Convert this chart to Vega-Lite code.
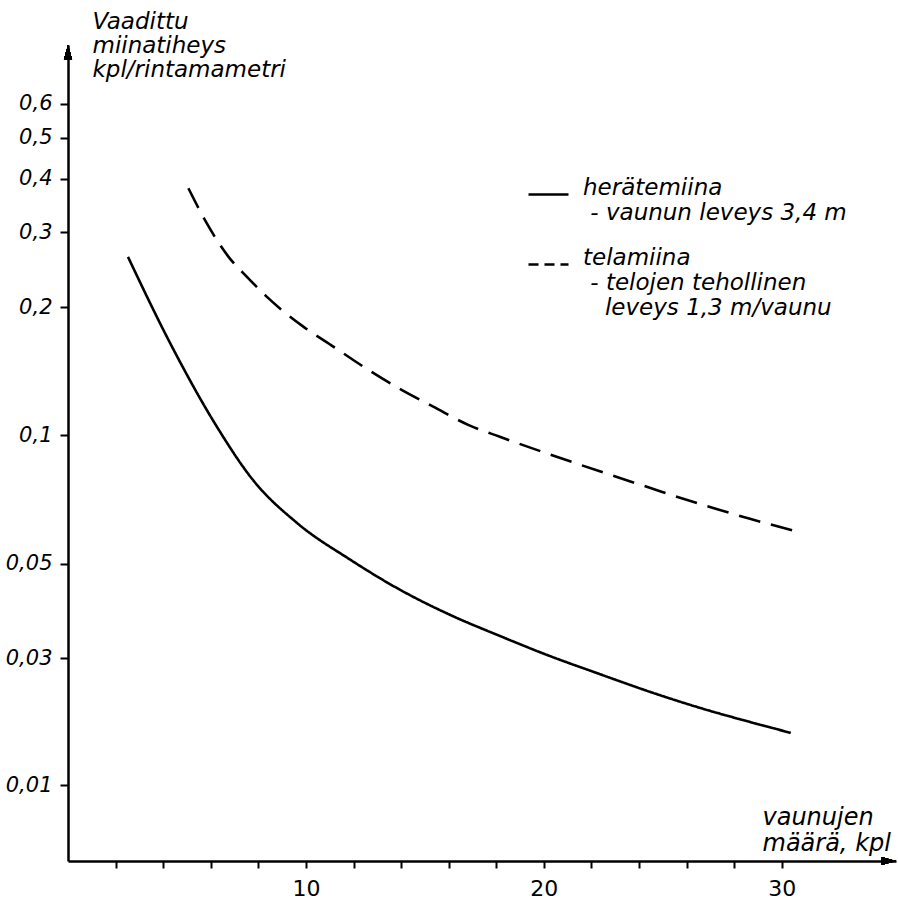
{
  "$schema": "https://vega.github.io/schema/vega-lite/v6.json",
  "width": 828,
  "height": 816,
  "autosize": "none",
  "padding": {"left": 68, "top": 45, "right": 2, "bottom": 39},
  "background": "white",
  "config": {"view": {"stroke": null}, "font": "DejaVu Sans"},
  "data": {
    "values": [
      {"serie": "herätemiina", "n": 2.52, "d": 0.2625},
      {"serie": "herätemiina", "n": 4.37, "d": 0.1615},
      {"serie": "herätemiina", "n": 6.26, "d": 0.1047},
      {"serie": "herätemiina", "n": 7.77, "d": 0.0786},
      {"serie": "herätemiina", "n": 9.62, "d": 0.0623},
      {"serie": "herätemiina", "n": 11.85, "d": 0.0511},
      {"serie": "herätemiina", "n": 13.95, "d": 0.0434},
      {"serie": "herätemiina", "n": 16.05, "d": 0.0379},
      {"serie": "herätemiina", "n": 18.15, "d": 0.0338},
      {"serie": "herätemiina", "n": 20.0, "d": 0.0307},
      {"serie": "herätemiina", "n": 22.35, "d": 0.0261},
      {"serie": "herätemiina", "n": 24.45, "d": 0.0224},
      {"serie": "herätemiina", "n": 26.55, "d": 0.0195},
      {"serie": "herätemiina", "n": 28.66, "d": 0.01725},
      {"serie": "herätemiina", "n": 30.38, "d": 0.0157},
      {"serie": "telamiina", "n": 5.06, "d": 0.3804},
      {"serie": "telamiina", "n": 5.83, "d": 0.3149},
      {"serie": "telamiina", "n": 6.39, "d": 0.28},
      {"serie": "telamiina", "n": 6.74, "d": 0.2628},
      {"serie": "telamiina", "n": 7.51, "d": 0.2359},
      {"serie": "telamiina", "n": 8.35, "d": 0.2117},
      {"serie": "telamiina", "n": 8.98, "d": 0.197},
      {"serie": "telamiina", "n": 9.89, "d": 0.18},
      {"serie": "telamiina", "n": 11.15, "d": 0.1616},
      {"serie": "telamiina", "n": 12.41, "d": 0.145},
      {"serie": "telamiina", "n": 14.02, "d": 0.1279},
      {"serie": "telamiina", "n": 15.35, "d": 0.1168},
      {"serie": "telamiina", "n": 16.82, "d": 0.1058},
      {"serie": "telamiina", "n": 18.15, "d": 0.0992},
      {"serie": "telamiina", "n": 20.25, "d": 0.0902},
      {"serie": "telamiina", "n": 22.35, "d": 0.0823},
      {"serie": "telamiina", "n": 24.45, "d": 0.0753},
      {"serie": "telamiina", "n": 26.55, "d": 0.069},
      {"serie": "telamiina", "n": 28.66, "d": 0.0637},
      {"serie": "telamiina", "n": 30.8, "d": 0.0591}
    ]
  },
  "layer": [
    {
      "mark": {"type": "line", "strokeWidth": 2.6, "color": "black", "interpolate": "monotone"},
      "encoding": {
        "x": {
          "field": "n", "type": "quantitative",
          "scale": {"domain": [0, 34.8], "nice": false, "zero": false},
          "axis": {
            "values": [2, 4, 6, 8, 10, 12, 14, 16, 18, 20, 22, 24, 26, 28, 30],
            "labelExpr": "datum.value % 10 === 0 ? datum.label : ''",
            "grid": false,
            "domainColor": "black", "domainWidth": 2.5,
            "tickColor": "black", "tickWidth": 2, "tickSize": 7,
            "labelFontSize": 22, "labelColor": "black", "labelPadding": 10,
            "labelFlush": false, "labelOverlap": false,
            "title": ["vaunujen", "määrä, kpl"],
            "titleX": 694, "titleY": -56, "titleAlign": "left", "titleBaseline": "top",
            "titleAngle": 0, "titleFontSize": 24, "titleFontWeight": "normal",
            "titleFontStyle": "italic", "titleLineHeight": 26, "titleColor": "black"
          }
        },
        "y": {
          "field": "d", "type": "quantitative",
          "scale": {"type": "log", "nice": false, "zero": false, "domain": [0.00518, 0.01, 0.03, 0.8252], "range": [816, 740, 613, 0]},
          "axis": {
            "values": [0.01, 0.03, 0.05, 0.1, 0.2, 0.3, 0.4, 0.5, 0.6],
            "labelExpr": "replace(format(datum.value, '~g'), '.', ',')",
            "grid": false,
            "domainColor": "black", "domainWidth": 2.5,
            "tickColor": "black", "tickWidth": 2, "tickSize": 8,
            "labelFontSize": 21, "labelFontStyle": "italic", "labelColor": "black", "labelPadding": 8,
            "labelOverlap": false, "labelFlush": false,
            "title": ["Vaadittu", "miinatiheys", "kpl/rintamametri"],
            "titleX": 24, "titleY": -35, "titleAlign": "left", "titleBaseline": "top",
            "titleAngle": 0, "titleFontSize": 23, "titleFontWeight": "normal",
            "titleFontStyle": "italic", "titleLineHeight": 24, "titleColor": "black"
          }
        },
        "strokeDash": {
          "field": "serie", "type": "nominal",
          "scale": {"domain": ["herätemiina", "telamiina"], "range": [[1, 0], [22, 11]]},
          "legend": null
        }
      }
    },
    {
      "transform": [
        {"window": [{"op": "row_number", "as": "rk"}], "groupby": ["serie"]},
        {"filter": "datum.rk === 1"}
      ],
      "mark": {"type": "line", "strokeWidth": 2.6, "color": "black"},
      "encoding": {
        "x": {"field": "n", "type": "quantitative"},
        "y": {"field": "d", "type": "quantitative"},
        "strokeDash": {
          "field": "serie", "type": "nominal",
          "scale": {"domain": ["herätemiina", "telamiina"], "range": [[1, 0], [10, 6]]},
          "legend": {
            "orient": "none", "legendX": 459, "legendY": 128,
            "title": null, "padding": 0,
            "symbolType": "stroke", "symbolSize": 1600, "symbolStrokeWidth": 2.5,
            "symbolStrokeColor": "black",
            "labelFont": "DejaVu Sans", "labelFontStyle": "italic", "labelFontSize": 23,
            "labelColor": "black", "labelLimit": 0, "labelOffset": 13, "labelBaseline": "alphabetic",
            "labelExpr": "datum.label == 'herätemiina' ? ['herätemiina', '\u200b\u00a0- vaunun leveys 3,4 m'] : ['telamiina', '\u200b\u00a0- telojen tehollinen', '\u200b\u00a0\u00a0\u00a0leveys 1,3 m/vaunu']",
            "rowPadding": 18
          }
        }
      }
    },
    {
      "mark": {"type": "point", "shape": "M0,0L-0.27,1L0.27,1Z", "filled": true, "color": "black", "size": 900, "opacity": 1},
      "encoding": {
        "x": {"datum": 0, "type": "quantitative"},
        "y": {"datum": 0.8252, "type": "quantitative"}
      }
    },
    {
      "mark": {"type": "point", "shape": "M0,0L-1,-0.27L-1,0.27Z", "filled": true, "color": "black", "size": 900, "opacity": 1},
      "encoding": {
        "x": {"datum": 34.8, "type": "quantitative"},
        "y": {"datum": 0.00518, "type": "quantitative"}
      }
    }
  ],
  "resolve": {"scale": {"strokeDash": "independent"}}
}
